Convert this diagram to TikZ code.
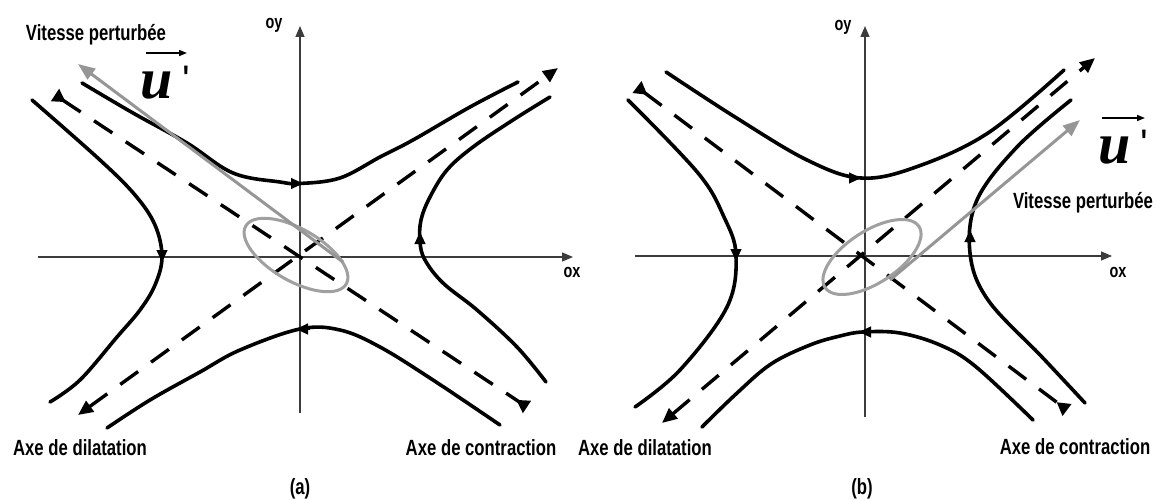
\documentclass[tikz,border=0pt]{standalone}
\usepackage{fontspec}
\setmainfont{Liberation Sans}
\newfontfamily\labfont{Liberation Sans}[FakeStretch=0.76]
\newfontfamily\ufont{Liberation Serif}
\usetikzlibrary{arrows.meta}
\definecolor{pgray}{RGB}{150,150,150}
\definecolor{egray}{RGB}{160,160,160}
\definecolor{axcol}{RGB}{60,60,60}
\tikzset{
  curve/.style={line width=3.6pt, black, line join=round, line cap=round},
  axisline/.style={line width=1.4pt, axcol, -{Triangle[length=11pt,width=9pt]}},
  dil/.style={line width=3.4pt, black, dash pattern=on 22pt off 16pt,
     {Triangle[length=15pt,width=13pt]}-{Triangle[length=15pt,width=13pt]}},
  con/.style={line width=3.4pt, black, dash pattern=on 22pt off 16pt,
     {Triangle[reversed,length=13pt,width=14pt]}-{Triangle[reversed,length=13pt,width=14pt]}},
  vtip/.style={line width=1pt, black, -{Triangle[length=12pt,width=11pt]}},
  lab/.style={font=\labfont\bfseries\fontsize{22}{22}\selectfont, inner sep=0pt},
  axlab/.style={font=\labfont\bfseries\fontsize{19}{19}\selectfont, inner sep=0pt},
  ulab/.style={font=\ufont\bfseries\itshape\fontsize{58}{58}\selectfont, inner sep=0pt},
  prim/.style={font=\labfont\bfseries\fontsize{34}{34}\selectfont, inner sep=0pt},
  vecarrow/.style={line width=1.5pt, black, -{Triangle[length=8pt,width=6pt]}},
  pert/.style={line width=3pt, pgray, -{Triangle[length=17pt,width=13pt]}},
  ell/.style={line width=3pt, egray},
}
\begin{document}
\begin{tikzpicture}[x=1pt,y=-1pt]
\useasboundingbox (0,0) rectangle (1157,500);

% ================= panel (a) =================
\coordinate (oxsa) at (38,257);   \coordinate (oxea) at (573,257);
\coordinate (oysa) at (300,413);  \coordinate (oyea) at (300,26);
\draw[axisline] (oxsa) -- (oxea);
\draw[axisline] (oysa) -- (oyea);
\node[axlab] (oxa) at (572,272) {ox};
\node[axlab] (oya) at (274,25) {oy};
\coordinate (dila1) at (78,415);  \coordinate (dila2) at (558,68);
\coordinate (cona1) at (55,95);   \coordinate (cona2) at (527,407);
\draw[dil] (dila1) -- (dila2);
\draw[con] (cona1) -- (cona2);
\draw[curve] plot[smooth, tension=0.6] coordinates {(82,83) (133,113) (187,143) (233,173) (280,182) (300,183.5) (340,178) (380,157) (413,140) (470,107) (518,82)};
\draw[curve] plot[smooth, tension=0.6] coordinates {(107,428) (150,400) (200,372) (240,350) (300,329) (340,330) (380,347) (433,380) (500,425)};
\draw[curve] plot[smooth, tension=0.6] coordinates {(32,100) (100,160) (135,195) (155,225) (162,257) (155,285) (140,310) (117,337) (80,380) (50,402)};
\draw[curve] plot[smooth, tension=0.6] coordinates {(550,97) (513,120) (473,147) (447,170) (430,197) (421,220) (420,242) (425,260) (443,283) (477,310) (517,347) (546,382)};
\draw[vtip] (290,183.5) -- (303,183.5);
\draw[vtip] (310,329) -- (296,329);
\draw[vtip] (162,248) -- (162,262);
\draw[vtip] (420,246) -- (420,232);
\draw[ell, rotate around={-30:(296,255)}] (296,255) ellipse [x radius=58, y radius=26];
\coordinate (pa1) at (343,262); \coordinate (pa2) at (78,64);
\draw[pert] (pa1) -- (pa2);
\node[lab] (vpa) at (96,35) {Vitesse perturbée};
\node[ulab] (ua) at (157,86) {u};
\node[prim] (pra) at (186,78) {'};
\coordinate (va1) at (146,53); \coordinate (va2) at (187,53);
\draw[vecarrow] (va1) -- (va2);
\node[lab] (dla) at (80,448) {Axe de dilatation};
\node[lab] (cla) at (481,448) {Axe de contraction};
\node[lab] (capa) at (300,489) {(a)};

% ================= panel (b) =================
\coordinate (oxsb) at (635,256);   \coordinate (oxeb) at (1112,256);
\coordinate (oysb) at (865,417);   \coordinate (oyeb) at (865,26);
\draw[axisline] (oxsb) -- (oxeb);
\draw[axisline] (oysb) -- (oyeb);
\node[axlab] (oxb) at (1118,272) {ox};
\node[axlab] (oyb) at (843,27) {oy};
\coordinate (dilb1) at (662,423);  \coordinate (dilb2) at (1095,58);
\coordinate (conb1) at (637,87);   \coordinate (conb2) at (1067,410);
\draw[dil] (dilb1) -- (dilb2);
\draw[con] (conb1) -- (conb2);
\draw[curve] plot[smooth, tension=0.6] coordinates {(666,72) (735,117) (807,160) (861,178) (916,167) (988,133) (1064,70)};
\draw[curve] plot[smooth, tension=0.6] coordinates {(702,427) (736,394) (771,364) (810,345) (840,336) (863,332) (900,333) (940,345) (975,366) (1033,420)};
\draw[curve] plot[smooth, tension=0.6] coordinates {(628,100) (698,173) (724,217) (736,255) (727,307) (680,370) (635,407)};
\draw[curve] plot[smooth, tension=0.6] coordinates {(1071,100) (1017,147) (977,200) (970,253) (988,300) (1042,357) (1085,403)};
\draw[vtip] (848,178) -- (861,178);
\draw[vtip] (873,332) -- (859,332);
\draw[vtip] (736,247) -- (736,261);
\draw[vtip] (970,244) -- (970,230);
\draw[ell, rotate around={33:(872,257)}] (872,257) ellipse [x radius=56, y radius=26];
\coordinate (pb1) at (890,280); \coordinate (pb2) at (1080,120);
\draw[pert] (pb1) -- (pb2);
\node[lab] (vpb) at (1083,203) {Vitesse perturbée};
\node[ulab] (ub) at (1115,151) {u};
\node[prim] (prb) at (1144,142) {'};
\coordinate (vb1) at (1102,118); \coordinate (vb2) at (1145,118);
\draw[vecarrow] (vb1) -- (vb2);
\node[lab] (dlb) at (645,448) {Axe de dilatation};
\node[lab] (clb) at (1075,447) {Axe de contraction};
\node[lab] (capb) at (862,489) {(b)};
\end{tikzpicture}
\end{document}
